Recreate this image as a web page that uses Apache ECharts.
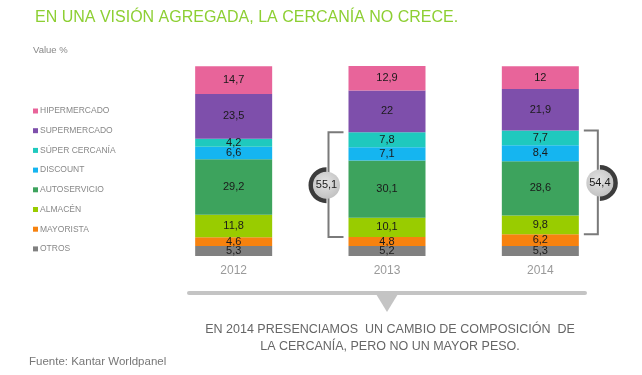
<!DOCTYPE html>
<html>
<head>
<meta charset="utf-8">
<script src="https://cdn.jsdelivr.net/npm/echarts@6/dist/echarts.min.js"></script>
<style>html,body{margin:0;padding:0;background:#fff}#c{width:642px;height:375px}</style>
</head>
<body>
<div id="c"></div>
<script>
var years = ['2012', '2013', '2014'];
var seriesNames = ['OTROS', 'MAYORISTA', 'ALMACÉN', 'AUTOSERVICIO', 'DISCOUNT', 'SÚPER CERCANÍA', 'SUPERMERCADO', 'HIPERMERCADO'];
var otros = [5.3, 5.2, 5.3];
var mayorista = [4.6, 4.8, 6.2];
var almacen = [11.8, 10.1, 9.8];
var autoservicio = [29.2, 30.1, 28.6];
var discount = [6.6, 7.1, 8.4];
var superCercania = [4.2, 7.8, 7.7];
var supermercado = [23.5, 22, 21.9];
var hipermercado = [14.7, 12.9, 12];
var cercaniaTotals = ['55,1', '54,4'];   // 2013, 2014
var colors = ['#808080', '#F7820F', '#99CC00', '#3DA35D', '#15B5F0', '#1FC9BE', '#7E4FAB', '#E8649A'];
var values = [otros, mayorista, almacen, autoservicio, discount, superCercania, supermercado, hipermercado];

var chart = echarts.init(document.getElementById('c'));
var FONT = '"Liberation Sans", Arial, sans-serif';

var series = seriesNames.map(function (n, i) {
  return {
    name: n, type: 'bar', stack: 'a', barWidth: 77,
    itemStyle: { color: colors[i] },
    label: {
      show: true, position: 'inside', color: '#1a1a1a', fontSize: 11, fontFamily: FONT,
      formatter: function (p) { return String(p.value).replace('.', ','); }
    },
    data: values[i]
  };
});

chart.setOption({
  animation: false,
  title: [
    { text: 'EN UNA VISIÓN AGREGADA, LA CERCANÍA NO CRECE.', left: 30, top: 5,
      textStyle: { color: '#8DCF33', fontSize: 16, fontWeight: 'normal', fontFamily: FONT } },
    { text: 'Value %', left: 28, top: 40,
      textStyle: { color: '#888', fontSize: 9.5, fontWeight: 'normal', fontFamily: FONT } }
  ],
  legend: {
    orient: 'vertical', left: 33, top: 106, padding: 0, itemWidth: 5, itemHeight: 5, itemGap: 9.7,
    icon: 'rect',
    data: seriesNames.slice().reverse(),
    textStyle: { color: '#888', fontSize: 8.5, fontFamily: FONT, lineHeight: 10, padding: [0, 0, 0, -3] },
    selectedMode: false
  },
  grid: { left: 157, right: 25, top: 66, bottom: 119 },
  xAxis: {
    type: 'category', data: years,
    axisLine: { show: false }, axisTick: { show: false },
    axisLabel: { color: '#9a9a9a', fontSize: 12, fontFamily: FONT, margin: 9 }
  },
  yAxis: { type: 'value', min: 0, max: 100, show: false, splitLine: { show: false } },
  series: series
});

function px(cat, v) { return chart.convertToPixel({ gridIndex: 0 }, [cat, v]); }
function cum(ci, upto) { var s = 0; for (var k = 0; k < upto; k++) s += values[k][ci]; return s; }

function bracket(ci, side, label) {
  var lo = px(ci, cum(ci, 2))[1];
  var hi = px(ci, cum(ci, 6))[1];
  var cx = px(ci, 0)[0];
  var half = 38.5;
  var vx, tx;
  if (side === 'left') { vx = cx - half - 20; tx = cx - half - 5; }
  else { vx = cx + half + 19; tx = cx + half + 5; }
  var cy = (lo + hi) / 2 + 0.5;
  var ccx = vx - (side === 'left' ? 2 : -2);
  return [
    { type: 'polyline', shape: { points: [[tx, hi], [vx, hi], [vx, lo], [tx, lo]] },
      style: { stroke: '#7a7a7a', lineWidth: 2, fill: null } },
    { type: 'sector', shape: { cx: ccx, cy: cy, r0: 13, r: 18,
        startAngle: side === 'left' ? Math.PI / 2 : -Math.PI / 2,
        endAngle: side === 'left' ? Math.PI * 1.5 : Math.PI / 2 },
      style: { fill: '#3c3c3c' } },
    { type: 'circle', shape: { cx: ccx, cy: cy, r: 13.5 },
      style: { fill: new echarts.graphic.RadialGradient(0.45, 0.4, 0.7, [
        { offset: 0, color: '#e4e4e4' }, { offset: 1, color: '#bdbdbd' }]) } },
    { type: 'text', x: ccx, y: cy,
      style: { text: label, fill: '#1a1a1a', fontSize: 11, fontFamily: FONT, align: 'center', verticalAlign: 'middle' } }
  ];
}

var g = [].concat(bracket(1, 'left', cercaniaTotals[0]), bracket(2, 'right', cercaniaTotals[1]));
g.push(
  { type: 'line', shape: { x1: 189, y1: 293, x2: 585, y2: 293 },
    style: { stroke: '#c4c4c4', lineWidth: 4, lineCap: 'round' } },
  { type: 'polygon', shape: { points: [[376, 294], [398, 294], [387, 312]] }, style: { fill: '#c4c4c4' } },
  { type: 'text', x: 390, y: 321.5,
    style: { text: 'EN 2014 PRESENCIAMOS  UN CAMBIO DE COMPOSICIÓN  DE\nLA CERCANÍA, PERO NO UN MAYOR PESO.',
      fill: '#666', fontSize: 12.5, fontFamily: FONT, align: 'center', lineHeight: 17 } },
  { type: 'text', x: 29, y: 356,
    style: { text: 'Fuente: Kantar Worldpanel', fill: '#777', fontSize: 11.5, fontFamily: FONT } }
);
chart.setOption({ graphic: g });
</script>
</body>
</html>
